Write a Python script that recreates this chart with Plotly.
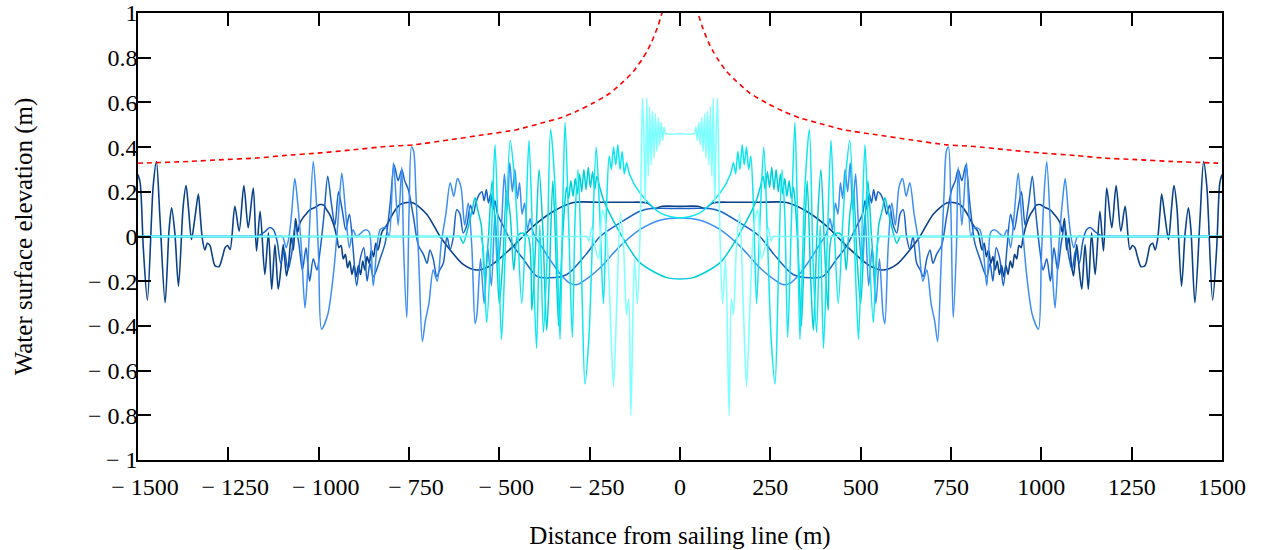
import plotly.graph_objects as go

# ---- data: right half (distance >= 0), the reference is mirror-symmetric ----
RED_X = [40, 50, 60, 78, 92, 106, 129, 157, 194, 240, 286, 332, 378, 452, 544, 636, 738, 812, 904, 996, 1098, 1172, 1264, 1356, 1476, 1500]
RED_Y = [1.08, 1.0, 0.946, 0.872, 0.827, 0.79, 0.738, 0.693, 0.641, 0.597, 0.56, 0.53, 0.51, 0.478, 0.455, 0.433, 0.41, 0.403, 0.388, 0.374, 0.362, 0.351, 0.344, 0.336, 0.329, 0.328]

NAVY_X = [0, 50, 70, 90, 150, 221, 295, 350, 406, 461, 526, 563, 600, 636, 664, 701, 738, 755, 775, 793, 812, 825,
          830, 836, 842, 848, 854, 860, 866, 872, 878, 884, 890, 896, 902, 908, 914, 920, 926, 932, 938, 944, 950,
          960, 970, 978, 986, 996, 1010, 1024, 1035, 1045, 1052, 1058, 1064, 1070, 1076, 1083, 1089, 1098, 1105,
          1112, 1121, 1130, 1139, 1149, 1162, 1172, 1181, 1195, 1207, 1220, 1232, 1245, 1252, 1259, 1266, 1276,
          1287, 1294, 1301, 1308, 1315, 1322, 1328, 1333, 1342, 1352, 1360, 1367, 1375, 1388, 1398, 1407, 1414,
          1425, 1439, 1449, 1458, 1474, 1485, 1494, 1500]
NAVY_Y = [0.135, 0.135, 0.125, 0.15, 0.153, 0.153, 0.152, 0.113, 0.046, -0.043, -0.132, -0.150, -0.125, -0.06, 0.0,
          0.10, 0.15, 0.152, 0.143, 0.106, 0.05, 0.02,
          -0.02, -0.06, -0.03, -0.09, -0.06, -0.12, -0.09, -0.15, -0.11, -0.17, -0.13, -0.18, -0.13, -0.17, -0.11,
          -0.14, -0.08, -0.10, -0.04, -0.05, 0.0,
          0.06, 0.10, 0.12, 0.14, 0.143, 0.13, 0.12, 0.10, 0.08, 0.06, 0.02, 0.08, -0.06, 0.0, -0.12, -0.177,
          -0.036, -0.15, -0.236, -0.036, -0.236, 0.016, -0.17, 0.113, -0.065, 0.217, 0.039, 0.228, 0.024, 0.135,
          -0.058, -0.04, -0.05, -0.09, -0.135, -0.13, -0.09, -0.04, -0.03, -0.06, -0.01, 0.10, 0.19, 0.09, -0.013,
          0.12, 0.228, 0.135, -0.222, 0.016, 0.128, 0.03, -0.296, 0.076, 0.335, 0.225, -0.285, -0.06, 0.24, 0.277]

MB_X = [0, 80, 111, 166, 221, 260, 313, 360, 397, 434, 461, 489, 505, 512, 518, 524, 530, 536, 542, 548, 555, 565,
        572, 580, 590, 600, 609, 618, 627, 636, 645, 655, 665, 673, 683, 692, 700, 710, 724, 738, 752, 762, 770,
        780, 791, 802, 816, 830, 840, 849, 858, 866, 875, 885, 895, 905, 915, 925, 935, 945, 955, 965, 975, 985,
        995, 1005, 1015, 1025, 1035, 1045, 1055, 1065, 1075, 1085, 1095, 1105, 1115, 1125, 1135, 1150, 1170, 1180,
        1500]
MB_Y = [0.125, 0.125, 0.113, 0.061, 0.0, -0.08, -0.17, -0.185, -0.177, -0.10, -0.043, 0.046, 0.10, 0.16, 0.12,
        0.19, 0.15, 0.21, 0.16, 0.20, 0.19, 0.15, 0.10, 0.14, 0.05, 0.016, 0.10, 0.12, 0.0, -0.06, 0.0, -0.12,
        -0.15, -0.18, -0.10, -0.06, -0.12, -0.08, -0.04, 0.09, 0.21, 0.25, 0.30, 0.25, 0.32, 0.15, -0.03, -0.10,
        -0.15, -0.18, -0.12, -0.20, -0.05, -0.10, -0.22, -0.05, 0.10, 0.03, 0.12, 0.20, 0.05, 0.15, 0.27, 0.10,
        -0.05, -0.15, -0.10, -0.20, -0.05, -0.15, -0.03, 0.05, -0.08, -0.15, -0.06, -0.12, -0.02, 0.03, 0.04,
        0.02, 0.0, 0.0, 0.0]

LB_X = [0, 55, 111, 166, 221, 250, 285, 304, 330, 360, 385, 406, 415, 422, 430, 437, 444, 450, 457, 464, 471, 478,
        486, 494, 503, 512, 522, 532, 542, 552, 562, 567, 576, 586, 596, 606, 616, 626, 636, 648, 660, 672, 683,
        695, 705, 713, 722, 731, 737, 743, 750, 756, 765, 770, 780, 793, 805, 815, 830, 849, 860, 870, 880, 895,
        905, 915, 925, 936, 945, 955, 965, 975, 992, 1000, 1008, 1015, 1025, 1032, 1038, 1048, 1058, 1066, 1075,
        1082, 1090, 1100, 1110, 1500]
LB_Y = [0.083, 0.073, 0.031, -0.043, -0.14, -0.18, -0.215, -0.21, -0.17, -0.103, -0.04, 0.016, 0.08, 0.03, 0.15,
        0.10, 0.24, 0.17, 0.30, 0.20, 0.33, 0.12, 0.28, 0.05, -0.12, 0.10, -0.22, -0.05, -0.30, -0.10, -0.35,
        -0.39, -0.05, 0.15, 0.05, 0.22, 0.26, 0.18, 0.24, 0.10, -0.02, -0.20, -0.15, -0.30, -0.38, -0.47, -0.15,
        0.20, 0.38, 0.40, 0.10, -0.363, -0.05, 0.31, 0.05, 0.33, 0.0, 0.04, 0.03, -0.22, 0.02, 0.03, 0.02, 0.0,
        0.03, -0.05, 0.10, 0.284, 0.10, -0.10, -0.25, -0.35, -0.415, -0.10, 0.20, 0.336, 0.05, -0.2, -0.32,
        -0.05, 0.15, 0.26, 0.10, 0.0, -0.05, 0.0, 0.0, 0.0]

C3_X = [0, 37, 111, 166, 200, 212, 222, 230, 236, 242, 248, 254, 260, 266, 272, 278, 284, 290, 296, 302, 308, 314,
        320, 328, 336, 345, 352, 362, 369, 380, 390, 400, 410, 420, 438, 450, 460, 470, 480, 490, 500, 510, 520,
        530, 540, 550, 560, 567, 575, 585, 600, 610, 620, 1500]
C3_Y = [-0.19, -0.184, -0.117, 0.016, 0.12, 0.165, 0.22, 0.27, 0.21, 0.29, 0.22, 0.31, 0.21, 0.30, 0.20, 0.28,
        0.19, 0.26, 0.18, 0.25, 0.17, 0.22, 0.12, -0.10, -0.40, 0.0, 0.25, -0.20, -0.42, 0.05, 0.30, -0.05,
        -0.33, 0.0, 0.016, 0.0, -0.15, 0.10, 0.20, -0.10, -0.30, 0.0, 0.25, 0.0, -0.20, 0.05, 0.12, 0.173, 0.12,
        0.05, -0.03, 0.0, 0.0, 0.0]

C2_X = [0, 55, 111, 140, 148, 154, 160, 166, 172, 178, 184, 190, 196, 203, 212, 222, 232, 242, 252, 263, 272, 282,
        290, 298, 308, 318, 325, 332, 345, 358, 368, 378, 388, 397, 408, 418, 428, 438, 450, 460, 470, 482, 494,
        503, 512, 522, 535, 545, 552, 560, 1500]
C2_Y = [0.083, 0.106, 0.195, 0.28, 0.33, 0.28, 0.38, 0.30, 0.41, 0.32, 0.40, 0.30, 0.36, 0.15, -0.30, 0.10, 0.40,
        0.0, -0.45, -0.66, -0.20, 0.30, 0.10, -0.45, 0.05, 0.51, 0.10, -0.46, 0.20, 0.48, -0.10, -0.43, 0.05,
        -0.50, 0.0, 0.43, 0.0, -0.30, 0.05, 0.30, 0.43, 0.0, -0.46, 0.0, 0.41, 0.0, -0.385, -0.05, 0.0, 0.0, 0.0]

L1_X = [0, 40, 44, 48, 52, 56, 60, 64, 68, 72, 76, 80, 84, 88, 92, 96, 100, 104, 110, 118, 126, 136, 142, 148, 156,
        165, 175, 184, 195, 205, 215, 225, 235, 245, 252, 258, 265, 1500]
L1_Y = [0.46, 0.46, 0.49, 0.43, 0.51, 0.41, 0.53, 0.38, 0.55, 0.35, 0.56, 0.32, 0.58, 0.27, 0.62, 0.15, 0.45, 0.62,
        0.05, -0.30, -0.10, -0.80, -0.28, -0.35, -0.05, 0.10, -0.30, -0.67, -0.25, 0.05, 0.12, -0.10, -0.05, 0.04,
        -0.02, 0.0, 0.0, 0.0]

X_TICKS = [-1500, -1250, -1000, -750, -500, -250, 0, 250, 500, 750, 1000, 1250, 1500]
X_TICKTEXT = ["\u2004\u2005\u2212 1500", "\u2004\u2005\u2212 1250", "\u2004\u2005\u2212 1000",
              "\u2004\u2005\u2212 750", "\u2004\u2005\u2212 500", "\u2004\u2005\u2212 250", "0",
              "250", "500", "750", "1000", "1250", "1500"]
Y_TICKS = [1, 0.8, 0.6, 0.4, 0.2, 0, -0.2, -0.4, -0.6, -0.8, -1]
Y_TICKTEXT = ["1", "0.8", "0.6", "0.4", "0.2", "0", "\u2212 0.2", "\u2212 0.4", "\u2212 0.6", "\u2212 0.8", "\u2212 1"]


def mirror(xs, ys):
    """Build the full symmetric profile from the right-half values."""
    lx = [-x for x in reversed(xs) if x != 0]
    ly = [y for x, y in zip(reversed(xs), reversed(ys)) if x != 0]
    return lx + list(xs), ly + list(ys)


fig = go.Figure()
series = [
    (NAVY_X, NAVY_Y, "#0a4288", 1.6),
    (MB_X, MB_Y, "#1a63c6", 1.5),
    (LB_X, LB_Y, "#3d8ff2", 1.5),
    (C3_X, C3_Y, "#00cfd8", 1.5),
    (C2_X, C2_Y, "#10e6f0", 1.5),
    (L1_X, L1_Y, "#80ffff", 1.6),
]
for xs, ys, col, w in series:
    fx, fy = mirror(xs, ys)
    fig.add_trace(go.Scatter(x=fx, y=fy, mode="lines",
                             line=dict(color=col, width=w, shape="spline", smoothing=0.8),
                             showlegend=False))

rx, ry = mirror(RED_X, RED_Y)
fig.add_trace(go.Scatter(x=rx, y=ry, mode="lines",
                         line=dict(color="#ff0000", width=1.6, dash="5px,4px", shape="spline", smoothing=0.6),
                         showlegend=False))

font = "Liberation Serif"
fig.update_layout(
    width=1265, height=550,
    margin=dict(l=138, r=43, t=13, b=90, autoexpand=False),
    paper_bgcolor="white", plot_bgcolor="white",
    font=dict(family=font, size=24, color="black"),
    xaxis=dict(range=[-1500, 1500], tickvals=X_TICKS, ticktext=X_TICKTEXT, ticks="inside", ticklen=13,
               tickwidth=1.5, tickcolor="black", showline=True, linecolor="black", linewidth=1.5,
               mirror="allticks", showgrid=False, zeroline=False, ticklabelstandoff=4, automargin=False,
               tickfont=dict(family=font, size=24),
               title=dict(text="Distance from sailing line (m)", standoff=30, font=dict(family=font, size=25))),
    yaxis=dict(range=[-1, 1], tickvals=Y_TICKS, ticktext=Y_TICKTEXT, ticks="inside", ticklen=13,
               tickwidth=1.5, tickcolor="black", showline=True, linecolor="black", linewidth=1.5,
               mirror="allticks", showgrid=False, zeroline=False, ticklabelstandoff=-6, automargin=False,
               tickfont=dict(family=font, size=24),
               title=dict(text="Water surface elevation (m)", standoff=48, font=dict(family=font, size=25))),
)

fig.write_html("out.html")
